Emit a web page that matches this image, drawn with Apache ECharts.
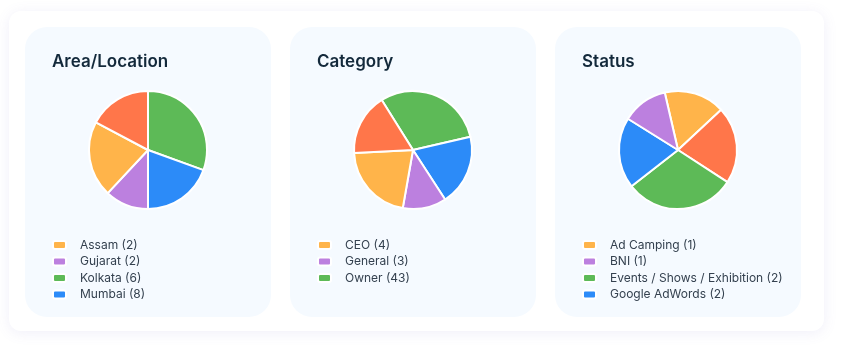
<!DOCTYPE html>
<html>
<head>
<meta charset="utf-8">
<script src="https://cdn.jsdelivr.net/npm/echarts@6/dist/echarts.min.js"></script>
<style>
  html, body { margin: 0; padding: 0; background: #fff; }
  #wrap { position: relative; width: 842px; height: 351px; overflow: hidden; }
  .outer {
    position: absolute; left: 9px; top: 11px; width: 815px; height: 320px;
    background: #fff; border-radius: 12px;
    box-shadow: 0 2px 14px rgba(110, 100, 200, 0.10);
  }
  .card {
    position: absolute; top: 27px; width: 246px; height: 290px;
    background: #f5faff; border-radius: 22px;
  }
  #main { position: absolute; left: 0; top: 0; width: 842px; height: 351px; }
</style>
</head>
<body>
<div id="wrap">
  <div class="outer"></div>
  <div class="card" style="left:25px"></div>
  <div class="card" style="left:290px"></div>
  <div class="card" style="left:555px"></div>
  <div id="main"></div>
</div>
<script>
// chart titles
const titles = ["Area/Location", "Category", "Status"];

// slice names (clockwise order), legend labels and slice sizes
const areaNames = ["Kolkata (6)", "Mumbai (8)", "Gujarat (2)", "Assam (2)", "Other"];
const areaValues = [110, 70, 43, 75, 62];
const areaLegend = ["Assam (2)", "Gujarat (2)", "Kolkata (6)", "Mumbai (8)"];

const categoryNames = ["Owner (43)", "Others", "General (3)", "CEO (4)", "Rest"];
const categoryValues = [109, 70, 43, 77, 61];
const categoryLegend = ["CEO (4)", "General (3)", "Owner (43)"];

const statusNames = ["Ad Camping (1)", "Other status", "Events / Shows / Exhibition (2)", "Google AdWords (2)", "BNI (1)"];
const statusValues = [60, 76, 109, 70, 45];
const statusLegend = ["Ad Camping (1)", "BNI (1)", "Events / Shows / Exhibition (2)", "Google AdWords (2)"];

const colors = {
  orange: "#ffb44a",
  purple: "#bc80df",
  green: "#5dba57",
  blue: "#2c8bf8",
  red: "#ff764a"
};
const areaColors = [colors.green, colors.blue, colors.purple, colors.orange, colors.red];
const categoryColors = [colors.green, colors.blue, colors.purple, colors.orange, colors.red];
const statusColors = [colors.orange, colors.red, colors.green, colors.blue, colors.purple];

const cardLeft = [25, 290, 555];
const startAngles = [90, 122, 103];

const myChart = echarts.init(document.getElementById("main"), null, { renderer: "canvas" });

const fontFamily = "Inter, 'Noto Sans', sans-serif";

const makeData = (names, values, cols) =>
  names.map((n, i) => ({ name: n, value: values[i], itemStyle: { color: cols[i] } }));

const pieData = [
  makeData(areaNames, areaValues, areaColors),
  makeData(categoryNames, categoryValues, categoryColors),
  makeData(statusNames, statusValues, statusColors)
];
const legends = [areaLegend, categoryLegend, statusLegend];

const option = {
  animation: false,
  backgroundColor: "transparent",
  title: titles.map((t, i) => ({
    text: t,
    left: cardLeft[i] + 27,
    top: 53,
    padding: 0,
    textStyle: { fontFamily, fontSize: 17, fontWeight: 600, color: "#13293b" }
  })),
  legend: legends.map((d, i) => ({
    data: d,
    orient: "vertical",
    left: cardLeft[i] + 27,
    top: 238,
    padding: 0,
    icon: "roundRect",
    itemWidth: 13,
    itemHeight: 8,
    itemGap: 2.5,
    selectedMode: false,
    textStyle: {
      fontFamily,
      fontSize: 12,
      color: "#34414f",
      lineHeight: 14,
      padding: [0, 0, 0, 9]
    }
  })),
  series: pieData.map((d, i) => ({
    type: "pie",
    center: [cardLeft[i] + 123, 150],
    radius: 59,
    startAngle: startAngles[i],
    clockwise: true,
    silent: true,
    label: { show: false },
    labelLine: { show: false },
    itemStyle: { borderColor: "#ffffff", borderWidth: 2 },
    emphasis: { disabled: true },
    data: d
  }))
};

option && myChart.setOption(option);
</script>
</body>
</html>
